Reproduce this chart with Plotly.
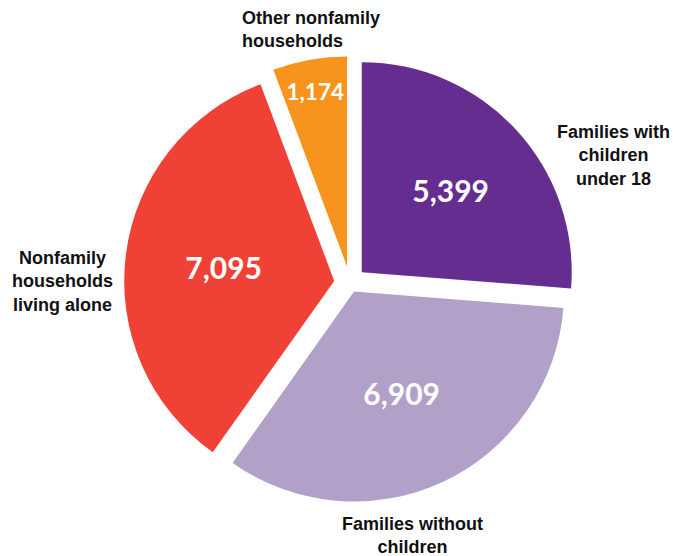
import plotly.graph_objects as go

categories = ["Families with children under 18", "Families without children",
              "Nonfamily households living alone", "Other nonfamily households"]
values = [5399, 6909, 7095, 1174]
colors = ["#652d90", "#b1a0c7", "#ef4136", "#f7941d"]
pulls = [0.076, 0.045, 0.076, 0.08]
label_lines = ["Families with<br>children<br>under 18", "Families without<br>children",
               "Nonfamily<br>households<br>living alone", "Other nonfamily<br>households"]

W, H = 673, 556
fig = go.Figure(go.Pie(
    labels=categories,
    values=values,
    text=[f"{v:,}" for v in values],
    textinfo="text",
    textposition="inside",
    insidetextorientation="horizontal",
    insidetextfont=dict(family="Lato", size=30, color="white", weight="bold"),
    marker=dict(colors=colors, line=dict(width=0)),
    pull=pulls,
    sort=False,
    direction="clockwise",
    rotation=0,
    hoverinfo="label+value",
    domain=dict(x=[0.1831, 0.8571], y=[0.0831, 0.8989]),
))

label_font = dict(family="Liberation Sans", size=18, color="#111111", weight="bold")
ann = [
    dict(x=613 / W, y=1 - 155 / H, text=label_lines[0], align="center", xanchor="center"),
    dict(x=412 / W, y=1 - 535 / H, text=label_lines[1], align="center", xanchor="center"),
    dict(x=62 / W, y=1 - 281 / H, text=label_lines[2], align="center", xanchor="center"),
    dict(x=240 / W, y=1 - 29 / H, text=label_lines[3], align="left", xanchor="left"),
]
for a in ann:
    fig.add_annotation(xref="paper", yref="paper", showarrow=False, font=label_font,
                       yanchor="middle", **a)

fig.update_layout(
    width=W, height=H,
    margin=dict(l=0, r=0, t=0, b=0),
    paper_bgcolor="white",
    plot_bgcolor="white",
    showlegend=False,
)
fig.write_html("out.html", config={"displayModeBar": False},
               post_script="document.body.style.margin='0';")
